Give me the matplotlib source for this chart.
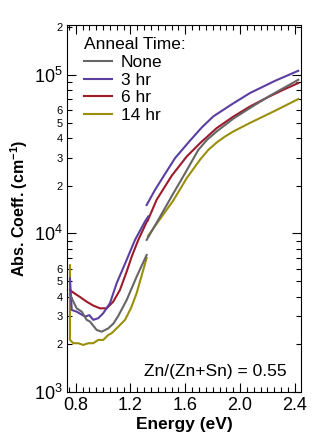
"""
Absorption coefficient vs photon energy for Zn/(Zn+Sn) = 0.55 films
after different anneal times.  Two detector segments per spectrum.
"""

import numpy as np

import matplotlib
matplotlib.use('Agg')
import matplotlib.pyplot as plt
from matplotlib.ticker import FixedLocator, FuncFormatter, MultipleLocator

plt.rcParams['font.family'] = ['Liberation Sans', 'DejaVu Sans']
plt.rcParams['mathtext.fontset'] = 'custom'
plt.rcParams['mathtext.rm'] = 'Liberation Sans'
plt.rcParams['mathtext.bf'] = 'Liberation Sans:bold'

# ── Data ──────────────────────────────────────────────────────
labels = ['None', '3 hr', '6 hr', '14 hr']
colors = ['#666666', '#5b3fa0', '#9c1b2b', '#9a8f0c']

# low-energy detector segment
none_lo_E = [0.758, 0.771, 0.807, 0.844, 0.880, 0.904, 0.953, 0.990, 1.038,
             1.075, 1.111, 1.172, 1.245, 1.318]
none_lo_a = [4100, 3900, 3370, 3210, 2850, 2780, 2460, 2400, 2520,
             2700, 3020, 3800, 5340, 7310]
hr3_lo_E = [0.758, 0.771, 0.807, 0.868, 0.900, 0.928, 0.965, 1.001, 1.050,
            1.099, 1.172, 1.233, 1.306, 1.330]
hr3_lo_a = [5200, 3290, 3210, 2990, 3050, 2850, 2920, 3140, 3630,
            4850, 6810, 9100, 11900, 12800]
hr6_lo_E = [0.760, 0.771, 0.830, 0.880, 0.930, 0.977, 1.026, 1.074, 1.123,
            1.172, 1.209, 1.257, 1.318]
hr6_lo_a = [4400, 4300, 3980, 3710, 3500, 3370, 3370, 3710, 4400,
            5740, 7140, 9100, 11800]
hr14_lo_E = [0.758, 0.758, 0.782, 0.819, 0.855, 0.892, 0.928, 0.965, 1.001,
             1.038, 1.063, 1.111, 1.160, 1.205, 1.245, 1.318]
hr14_lo_a = [6300, 2130, 2030, 2030, 1980, 2030, 2030, 2130, 2130,
             2290, 2350, 2580, 2850, 3400, 4200, 7000]

# high-energy detector segment
none_hi_E = [1.318, 1.415, 1.510, 1.605, 1.695, 1.760, 1.829, 1.948, 2.072,
             2.218, 2.425]
none_hi_a = [9100, 12700, 17700, 24500, 33600, 39000, 43900, 52700, 61700,
             73800, 93000]
hr3_hi_E = [1.318, 1.379, 1.452, 1.525, 1.634, 1.720, 1.804, 1.934, 2.072,
            2.255, 2.425]
hr3_hi_a = [15100, 18800, 23700, 29800, 38400, 46500, 54600, 64700, 76700,
            91600, 106000]
hr6_hi_E = [1.325, 1.391, 1.501, 1.610, 1.707, 1.829, 1.948, 2.072, 2.194,
            2.315, 2.425]
hr6_hi_a = [12000, 16300, 23100, 30500, 37000, 46100, 54300, 63100, 71600,
            80400, 88700]
hr14_hi_E = [1.328, 1.415, 1.510, 1.612, 1.707, 1.768, 1.829, 1.890, 1.948,
             2.072, 2.255, 2.425]
hr14_hi_a = [9640, 12300, 16000, 22400, 29100, 33600, 37400, 40800, 43800,
             49700, 59300, 70300]

x_ticks = [0.8, 1.2, 1.6, 2.0, 2.4]
minor_labelled = (2, 3, 4, 5, 6)

segments = [
    (none_lo_E, none_lo_a, none_hi_E, none_hi_a),
    (hr3_lo_E, hr3_lo_a, hr3_hi_E, hr3_hi_a),
    (hr6_lo_E, hr6_lo_a, hr6_hi_E, hr6_hi_a),
    (hr14_lo_E, hr14_lo_a, hr14_hi_E, hr14_hi_a),
]


def minor_fmt(v, pos):
    m = int(round(v / 10 ** np.floor(np.log10(v) + 1e-9)))
    return str(m) if m in minor_labelled else ''


# ── Plot ──────────────────────────────────────────────────────
fig = plt.figure(figsize=(3.27, 4.46), dpi=100)
ax = fig.add_axes([0.2064, 0.1211, 0.7141, 0.8228])

lines = {}
for i in [3, 2, 1, 0]:           # None drawn last, on top
    lo_E, lo_a, hi_E, hi_a = segments[i]
    ln, = ax.plot(lo_E, lo_a, color=colors[i], lw=1.5, label=labels[i])
    ax.plot(hi_E, hi_a, color=colors[i], lw=1.5)
    lines[i] = ln
handles = [lines[i] for i in range(4)]

ax.set_yscale('log')
ax.set_xlim(0.74, 2.445)
ax.set_ylim(1e3, 2.06e5)

ax.xaxis.set_major_locator(FixedLocator(x_ticks))
ax.xaxis.set_major_formatter(FuncFormatter(lambda v, p: f"{v:.1f}"))
ax.xaxis.set_minor_locator(MultipleLocator(0.05))
ax.yaxis.set_minor_formatter(FuncFormatter(minor_fmt))

ax.tick_params(which='both', direction='in', top=True, right=True)
ax.tick_params(which='major', length=6.5, width=0.8, labelsize=13)
ax.tick_params(which='minor', length=3.5, width=0.8, labelsize=8)
for s in ax.spines.values():
    s.set_linewidth(0.8)

ax.set_xlabel('Energy (eV)', fontsize=12.5, fontweight='bold', labelpad=2)
ax.set_ylabel('Abs. Coeff. (cm$^{\\mathbf{-1}}$)', fontsize=11.5,
              fontweight='bold', labelpad=3)

ax.legend(handles, labels, title='Anneal Time:', loc='upper left',
          bbox_to_anchor=(0.072, 0.966), frameon=False, fontsize=12.5,
          title_fontsize=12.5, alignment='left', handlelength=1.6,
          handletextpad=0.5, labelspacing=0.14, borderpad=0,
          borderaxespad=0)

ax.text(0.94, 0.056, 'Zn/(Zn+Sn) = 0.55', transform=ax.transAxes,
        ha='right', va='center', fontsize=12.5)

fig.savefig('out.png', dpi=100, facecolor='white')
plt.close(fig)
